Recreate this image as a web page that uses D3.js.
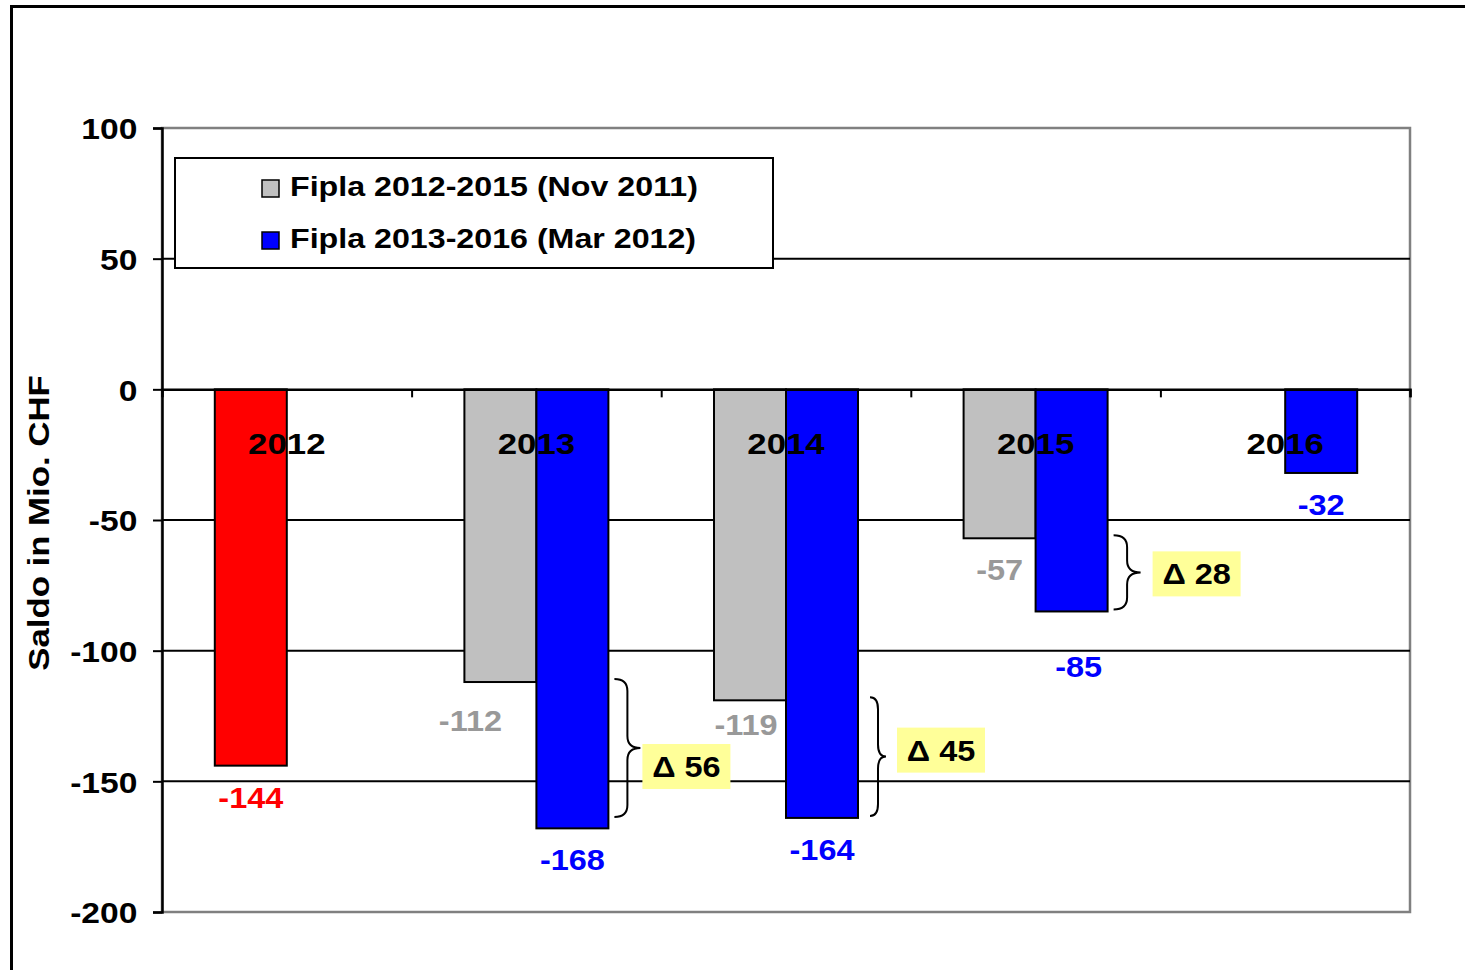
<!DOCTYPE html>
<html>
<head>
<meta charset="utf-8">
<script src="https://cdn.jsdelivr.net/npm/d3@7"></script>
<style>
  body { margin: 0; background: #fff; }
  text { font-family: "Liberation Sans", Arial, sans-serif; font-weight: bold; }
</style>
</head>
<body>
<script>
// data
var years = ["2012", "2013", "2014", "2015", "2016"];
var rechnung = [-144, null, null, null, null];       // red bar
var fiplaNov11 = [null, -112, -119, -57, null];      // grey
var fiplaMar12 = [null, -168, -164, -85, -32];       // blue
var deltas = [null, 56, 45, 28, null];
var yTicks = [100, 50, 0, -50, -100, -150, -200];
var legendLabels = ["Fipla 2012-2015 (Nov 2011)", "Fipla 2013-2016 (Mar 2012)"];

var width = 1465, height = 970;
var SX = 1.12; // text is drawn a bit wider than normal in the original

var svg = d3.select("body").append("svg")
    .attr("width", width)
    .attr("height", height);

// plot area
var pLeft = 162, pRight = 1410, pTop = 128, pBottom = 912;

var x = d3.scaleBand().domain(years).range([pLeft, pRight]).padding(0);
var xLin = d3.scaleLinear().domain([0, years.length]).range([pLeft, pRight]);
var y = d3.scaleLinear().domain([-200, 100]).range([pBottom, pTop]);
var barW = 72;

function label(sel, px, py, str, size, color, anchor, sx) {
  return sel.append("text")
    .attr("transform", "translate(" + px + "," + py + ") scale(" + (sx || SX) + ",1)")
    .attr("text-anchor", anchor || "middle")
    .style("font-size", size + "px")
    .style("fill", color || "#000")
    .text(str);
}

//outer frame
svg.append("path")
  .attr("d", "M11.5," + height + " V6.5 H" + width)
  .attr("fill", "none").attr("stroke", "#000").attr("stroke-width", 3);

//plot border (grey)
svg.append("rect")
  .attr("x", pLeft).attr("y", pTop)
  .attr("width", pRight - pLeft).attr("height", pBottom - pTop)
  .attr("fill", "none").attr("stroke", "#808080").attr("stroke-width", 2.5);

//gridlines
svg.append("g").selectAll("line")
  .data(yTicks.filter(function(d) { return d !== 100 && d !== -200 && d !== 0; }))
  .enter().append("line")
  .attr("x1", pLeft).attr("x2", pRight)
  .attr("y1", function(d) { return y(d); })
  .attr("y2", function(d) { return y(d); })
  .attr("stroke", "#000").attr("stroke-width", 2);

//bars
var bars = svg.append("g");
function drawBars(values, color, side) {
  bars.selectAll(null)
    .data(years.map(function(yr, i) { return { year: yr, v: values[i] }; })
      .filter(function(d) { return d.v !== null; }))
    .enter().append("rect")
    .attr("x", function(d) { return x(d.year) + x.bandwidth() / 2 + (side < 0 ? -barW : 0); })
    .attr("y", y(0))
    .attr("width", barW)
    .attr("height", function(d) { return y(d.v) - y(0); })
    .attr("fill", color)
    .attr("stroke", "#000").attr("stroke-width", 2);
}
drawBars(rechnung, "#ff0000", -1);
drawBars(fiplaNov11, "#c0c0c0", -1);
drawBars(fiplaMar12, "#0000ff", 1);

//y axis
var yAxis = svg.append("g")
  .attr("transform", "translate(" + pLeft + ",0)")
  .call(d3.axisLeft(y).tickValues(yTicks).tickSize(9).tickPadding(13)
    .tickFormat(function(d) { return String(d); }));
yAxis.select(".domain").attr("stroke", "#000").attr("stroke-width", 2.5);
yAxis.selectAll(".tick line").attr("stroke", "#000").attr("stroke-width", 2);
yAxis.selectAll(".tick text")
  .attr("transform", "scale(" + SX + ",1)")
  .attr("dy", "0.36em")
  .style("font-size", "30px")
  .style("font-family", "'Liberation Sans', Arial, sans-serif")
  .style("font-weight", "bold")
  .attr("fill", "#000");

//zero line with ticks at category borders
var xAxis = svg.append("g")
  .attr("transform", "translate(0," + y(0) + ")")
  .call(d3.axisBottom(xLin).tickValues(d3.range(1, years.length + 1)).tickSize(8).tickFormat(""));
xAxis.select(".domain").attr("stroke", "#000").attr("stroke-width", 2.5);
xAxis.selectAll(".tick line").attr("stroke", "#000").attr("stroke-width", 2);

//category labels
var cats = svg.append("g");
years.forEach(function(yr) {
  label(cats, x(yr) + x.bandwidth() / 2, 454, yr, 30, "#000", "middle", 1.16);
});

//value labels
var vals = svg.append("g");
var nudgeGrey = { "2013": [-30, 7], "2014": [-4, -7] };
var nudgeBlue = { "2015": [7, 24] };
years.forEach(function(yr, i) {
  var c = x(yr) + x.bandwidth() / 2;
  if (rechnung[i] !== null)
    label(vals, c - barW / 2, y(rechnung[i]) + 42, rechnung[i], 29, "#ff0000");
  if (fiplaNov11[i] !== null) {
    var ng = nudgeGrey[yr] || [0, 0];
    label(vals, c - barW / 2 + ng[0], y(fiplaNov11[i]) + 42 + ng[1], fiplaNov11[i], 29, "#999999");
  }
  if (fiplaMar12[i] !== null) {
    var nb = nudgeBlue[yr] || [0, 0];
    label(vals, c + barW / 2 + nb[0], y(fiplaMar12[i]) + 42 + nb[1], fiplaMar12[i], 29, "#0000ff");
  }
});

//braces + delta boxes
var ann = svg.append("g");
var braceX = { "2013": [6, 26, 2], "2014": [12, 16, 11], "2015": [6, 27, 12] }; // offset, width, gap to box
var boxNudge = { "2013": 18, "2014": -7, "2015": 1 };
years.forEach(function(yr, i) {
  if (deltas[i] === null) return;
  var c = x(yr) + x.bandwidth() / 2;
  var bxs = braceX[yr];
  var x0 = c + barW + bxs[0], x1 = x0 + bxs[1], xm = (x0 + x1) / 2;
  var t = y(fiplaNov11[i]) - 3, b = Math.min(y(fiplaMar12[i]) - 2, 817);
  var m = (t + b) / 2, r = 12;
  ann.append("path")
    .attr("d", "M" + x0 + "," + t + " Q" + xm + "," + t + " " + xm + "," + (t + r) +
      " L" + xm + "," + (m - r) + " Q" + xm + "," + m + " " + x1 + "," + m +
      " Q" + xm + "," + m + " " + xm + "," + (m + r) +
      " L" + xm + "," + (b - r) + " Q" + xm + "," + b + " " + x0 + "," + b)
    .attr("fill", "none").attr("stroke", "#000").attr("stroke-width", 2);
  var bx = x1 + bxs[2], by = m + boxNudge[yr] - 22;
  ann.append("rect")
    .attr("x", bx).attr("y", by).attr("width", 88).attr("height", 45)
    .attr("fill", "#ffff99");
  label(ann, bx + 44, by + 33, "\u0394 " + deltas[i], 29, "#000");
});

//legend
var lg = svg.append("g");
lg.append("rect")
  .attr("x", 175).attr("y", 158).attr("width", 598).attr("height", 110)
  .attr("fill", "#fff").attr("stroke", "#000").attr("stroke-width", 2);
var legColors = ["#c0c0c0", "#0000ff"];
legendLabels.forEach(function(t, i) {
  var ly = 196 + i * 52;
  lg.append("rect")
    .attr("x", 262).attr("y", ly - 16).attr("width", 17).attr("height", 17)
    .attr("fill", legColors[i]).attr("stroke", "#000").attr("stroke-width", 1.5);
  label(lg, 290, ly, t, 28, "#000", "start", 1.15);
});

//y axis title
svg.append("text")
  .attr("transform", "translate(49,523) rotate(-90) scale(1.2,1)")
  .attr("text-anchor", "middle")
  .style("font-size", "29px")
  .text("Saldo in Mio. CHF");
</script>
</body>
</html>
